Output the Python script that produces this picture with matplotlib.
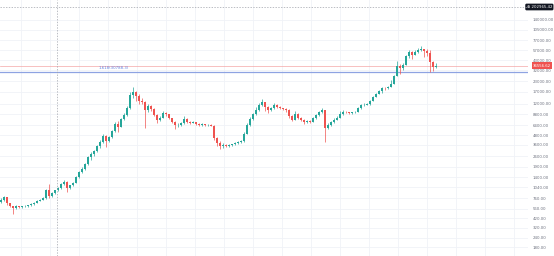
import matplotlib
matplotlib.use("Agg")
from matplotlib import pyplot as plt

# candle closes (about 3 px per candle)
closes = [720, 780, 650, 600, 575, 600, 580, 600, 605, 620,
          640, 660, 700, 720, 760, 950, 810, 880, 950, 1030,
          1150, 1230, 1030, 1110, 1200, 1400, 1630, 1800, 2050, 2500,
          2780, 3000, 3450, 3900, 4700, 4000, 4500, 5400, 6700, 6100,
          7600, 8700, 10600, 15500, 17000, 15000, 13000, 12600, 10000, 11200,
          10300, 8700, 7500, 8000, 9200, 8800, 7800, 7100, 6400, 6500,
          6800, 7600, 7100, 6900, 7000, 6600, 6450, 6600, 6450, 6500,
          6300, 4400, 3800, 3450, 3550, 3500, 3600, 3650, 3800, 3900,
          4000, 5000, 6500, 7700, 8900, 10100, 11700, 12600, 10900, 10100,
          10600, 11600, 10900, 10500, 10300, 10000, 8300, 7500, 8900, 7900,
          7500, 7100, 7200, 7100, 7900, 8700, 9400, 9900, 5900, 6400,
          7100, 7500, 8000, 9000, 9400, 9300, 9100, 9300, 9400, 10500,
          11500, 11700, 11800, 13000, 14700, 16000, 17500, 19000, 18800, 19800,
          21400, 27000, 36000, 34000, 37400, 48500, 54300, 50000, 54500, 57700,
          59000, 56000, 53000, 40400, 35000, 36556.62]
highs = [760, 800, 790, 660, 610, 615, 610, 612, 620, 630,
         650, 670, 710, 740, 780, 980, 1150, 900, 970, 1060,
         1190, 1280, 1250, 1130, 1230, 1440, 1700, 1880, 2150, 2600,
         2900, 3100, 3600, 4100, 4900, 4800, 4650, 5600, 7000, 7300,
         7900, 9100, 11200, 16800, 19700, 17500, 15800, 14200, 13000, 11800,
         11600, 10600, 9000, 8400, 9800, 9500, 9000, 8000, 7300, 6800,
         7100, 8400, 7800, 7300, 7200, 7100, 6750, 6800, 6700, 6650,
         6600, 6450, 4550, 4000, 3800, 3700, 3700, 3750, 3900, 4050,
         4150, 5200, 6800, 8100, 9100, 10800, 12200, 13800, 12800, 11300,
         11000, 12200, 11900, 11100, 10700, 10500, 10200, 8600, 9800, 9100,
         8100, 7700, 7400, 7500, 8100, 8900, 9600, 10500, 10000, 6900,
         7300, 7800, 8300, 9600, 9900, 9700, 9500, 9500, 9600, 10800,
         11800, 12100, 12200, 13300, 15100, 16400, 17900, 19400, 19500, 20300,
         23800, 28000, 41900, 38000, 39000, 49500, 58300, 56000, 58000, 61700,
         64800, 60000, 59500, 58000, 42000, 39500]
lows = [650, 700, 630, 580, 480, 560, 565, 570, 590, 595,
        610, 630, 650, 690, 710, 750, 760, 790, 860, 930,
        1000, 1120, 900, 1000, 1090, 1180, 1380, 1600, 1750, 2000,
        2300, 2600, 2900, 3300, 3800, 3400, 3900, 4400, 5300, 5200,
        6000, 7400, 8500, 10400, 14000, 13000, 12000, 11800, 5900, 9500,
        9800, 8400, 6800, 7300, 7800, 8500, 7600, 6900, 5800, 6100,
        6300, 6700, 6900, 6700, 6750, 6450, 6250, 6350, 6300, 6350,
        6200, 4200, 3500, 3150, 3300, 3350, 3400, 3500, 3550, 3700,
        3800, 3950, 4900, 6300, 7500, 8600, 9800, 11200, 9700, 9200,
        9600, 10400, 10500, 10200, 9900, 9500, 7800, 7300, 7400, 7600,
        7200, 6600, 6900, 6850, 7000, 7700, 8500, 9200, 3900, 5800,
        6300, 6800, 7400, 7900, 8700, 9100, 8900, 9000, 9200, 9300,
        10400, 11200, 11400, 11600, 12900, 14500, 15800, 16500, 17800, 18500,
        19500, 21200, 26800, 29000, 32000, 37000, 46000, 45000, 49500, 53000,
        55500, 47500, 48000, 30100, 31500, 34000]
first_open = 680
opens = [first_open] + closes[:-1]

tick_values = [140000, 105000, 77000, 57000, 43000, 32000, 23000, 17000, 12000,
               8800, 6400, 4800, 3600, 2600, 1900, 1400, 1040, 760, 560, 420,
               320, 240, 180]
last_price = 36556.62
fib_price = 30788.3
fib_label = "1.618(30788.3)"
cross_price = 202965.42

up = "#26a69a"
down = "#ef5350"

fig = plt.figure(figsize=(5.54, 2.56), dpi=100)
ax = fig.add_axes([0, 0, 528 / 554, 1])
ax.set_yscale("log")
ax.set_ylim(140, 249000)
ax.set_xlim(-1 / 3, 527 / 3)

# grid
for v in tick_values:
    ax.axhline(v, color="#f0f2f7", lw=0.6, zorder=0)
for k in range(18):
    ax.axvline((20 + 29 * k) / 3, color="#f0f2f7", lw=0.6, zorder=0)

xs = list(range(len(closes)))
cols = [up if c >= o else down for o, c in zip(opens, closes)]
ax.vlines(xs, lows, highs, colors=cols, lw=0.5, zorder=2)
bottoms = [min(o, c) for o, c in zip(opens, closes)]
heights = [max(abs(c - o), min(o, c) * 0.01) for o, c in zip(opens, closes)]
ax.bar(xs, heights, bottom=bottoms, width=0.65, color=cols, lw=0, zorder=3)

# price line and fib level
ax.axhline(last_price, color="#f4a6a6", lw=0.5, zorder=1)
ax.axhline(fib_price, color="#8ea3e2", lw=0.9, zorder=1)
ax.text(113 / 3, fib_price * 1.04, fib_label, color="#5f7fe0", fontsize=2.8,
        ha="center", va="bottom")

# crosshair
ax.axhline(cross_price, color="#a0a3ab", lw=0.5, ls=(0, (2, 2)), zorder=4)
ax.axvline(56 / 3, color="#a0a3ab", lw=0.5, ls=(0, (2, 2)), zorder=4)

for s in ax.spines.values():
    s.set_visible(False)
ax.set_xticks([])
ax.yaxis.tick_right()
ax.set_yticks(tick_values)
ax.set_yticklabels([f"{v:.2f}" for v in tick_values])
ax.minorticks_off()
ax.tick_params(axis="y", length=0, pad=3.5, labelsize=2.8, labelcolor="#6f7380")

# right-axis labels for price and crosshair
ax.annotate(f"{last_price:.2f}", xy=(1, last_price), xycoords=("axes fraction", "data"),
            xytext=(3.5, 0), textcoords="offset points", fontsize=2.8, color="white",
            va="center", ha="left",
            bbox=dict(boxstyle="square,pad=0.35", fc=down, ec="none"))
ax.annotate(f"\u2297 {cross_price:.2f}", xy=(1, cross_price), xycoords=("axes fraction", "data"),
            xytext=(-1, 0), textcoords="offset points", fontsize=2.8, color="white",
            va="center", ha="left",
            bbox=dict(boxstyle="round,pad=0.35", fc="#131722", ec="none"))

fig.savefig("out.png", dpi=100)
